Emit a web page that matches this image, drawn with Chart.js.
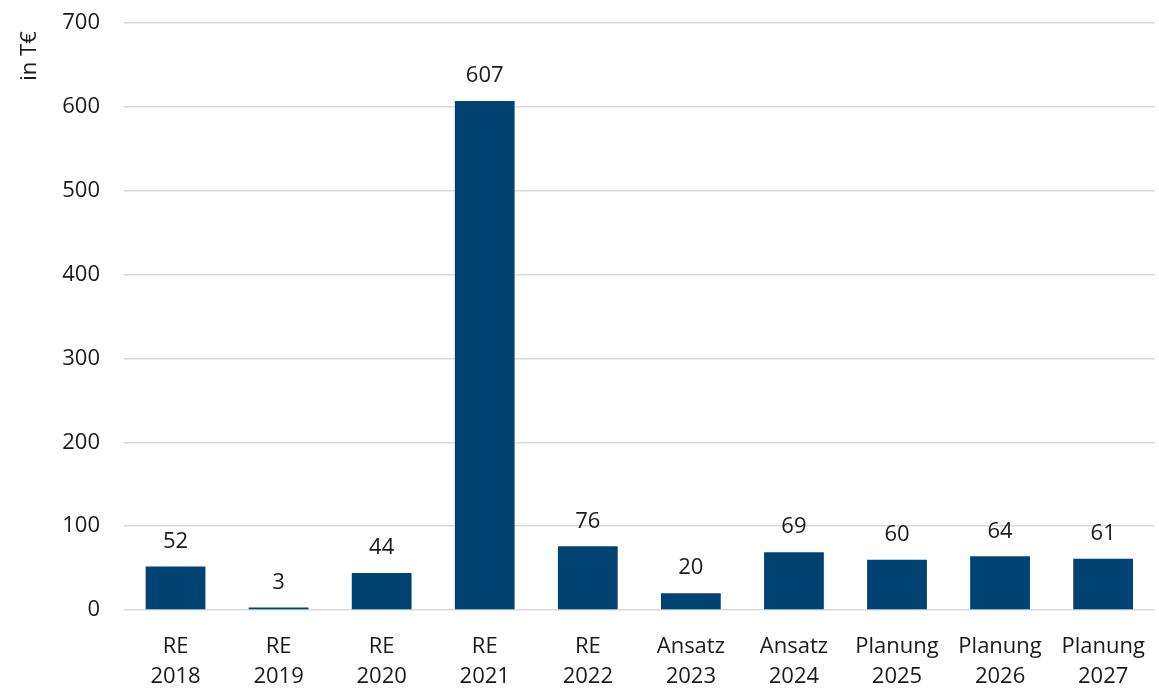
<!DOCTYPE html>
<html>
<head>
<meta charset="utf-8">
<script src="https://cdn.jsdelivr.net/npm/chart.js@4/dist/chart.umd.min.js"></script>
<style>
  html, body { margin: 0; padding: 0; background: #ffffff; }
  #wrap { width: 1159px; height: 693px; position: relative; }
</style>
</head>
<body>
<div id="wrap"><canvas id="c"></canvas></div>
<script>
// Categories (two-line labels) and values in T€
const categories = [
  ["RE", "2018"], ["RE", "2019"], ["RE", "2020"], ["RE", "2021"], ["RE", "2022"],
  ["Ansatz", "2023"], ["Ansatz", "2024"],
  ["Planung", "2025"], ["Planung", "2026"], ["Planung", "2027"]
];
const values = [52, 3, 44, 607, 76, 20, 69, 60, 64, 61];
const yTicks = [0, 100, 200, 300, 400, 500, 600, 700];
const unitLabel = "in T€";

const FONT = "'Open Sans', 'Noto Sans', sans-serif";
const FS = 22;
const TEXT = "#1a1a1a";
const BAR = "#004372";

// Value labels above each bar, plus the unit label at the top of the value axis
const annotations = {
  id: "annotations",
  afterDatasetsDraw(chart) {
    const ctx = chart.ctx;
    const meta = chart.getDatasetMeta(0);
    ctx.save();
    ctx.font = FS + "px " + FONT;
    ctx.fillStyle = TEXT;
    ctx.textAlign = "center";
    ctx.textBaseline = "middle";
    meta.data.forEach((bar, i) => {
      ctx.fillText(String(values[i]), bar.x, bar.y - 25);
    });
    ctx.translate(30, chart.chartArea.top + 33);
    ctx.rotate(-Math.PI / 2);
    ctx.fillText(unitLabel, 0, 0);
    ctx.restore();
  }
};

new Chart(document.getElementById("c"), {
  type: "bar",
  data: {
    labels: categories,
    datasets: [{
      data: values,
      backgroundColor: BAR,
      categoryPercentage: 1,
      barPercentage: 0.58
    }]
  },
  options: {
    responsive: true,
    maintainAspectRatio: false,
    animation: false,
    layout: { padding: { top: 23, right: 3, bottom: 0, left: 0 } },
    plugins: { legend: { display: false }, tooltip: { enabled: false } },
    scales: {
      x: {
        afterFit(scale) { scale.height = 83; },
        grid: { display: false },
        border: { display: false },
        ticks: { color: TEXT, font: { family: FONT, size: FS, lineHeight: 30 / FS }, padding: 14, maxRotation: 0 }
      },
      y: {
        min: 0, max: 700,
        afterBuildTicks(scale) { scale.ticks = yTicks.map(v => ({ value: v })); },
        afterFit(scale) {
          scale.width = 124;
          scale.paddingTop = 0;
          scale.paddingBottom = 0;
        },
        grid: { color: "#d9d9d9", lineWidth: 1.5, drawTicks: false },
        border: { display: false },
        ticks: { color: TEXT, font: { family: FONT, size: FS }, padding: 24 }
      }
    }
  },
  plugins: [annotations]
});
</script>
</body>
</html>
